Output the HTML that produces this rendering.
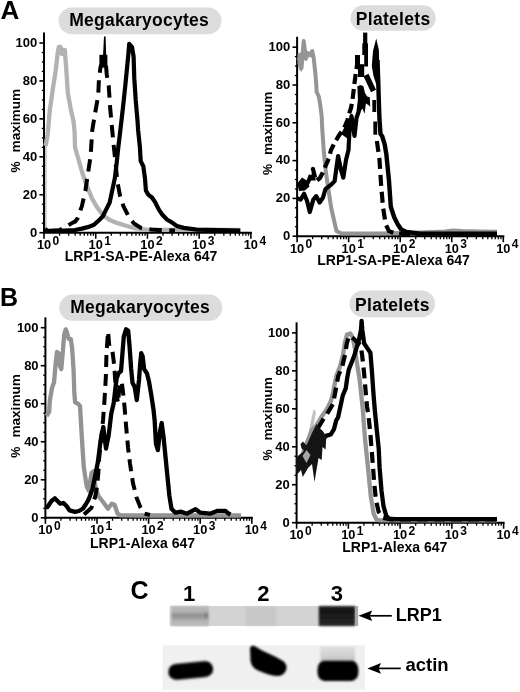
<!DOCTYPE html>
<html><head><meta charset="utf-8"><style>
html,body{margin:0;padding:0;background:#fff;width:520px;height:692px;overflow:hidden}
svg{display:block;filter:blur(0.35px)}
</style></head><body>
<svg width="520" height="692" viewBox="0 0 520 692">
<rect width="520" height="692" fill="#fff"/>
<text x="0.4" y="18.9" font-family="Liberation Sans, sans-serif" font-weight="bold" font-size="26">A</text>
<text x="0" y="305.8" font-family="Liberation Sans, sans-serif" font-weight="bold" font-size="25">B</text>
<text x="130.5" y="599" font-family="Liberation Sans, sans-serif" font-weight="bold" font-size="25">C</text>
<rect x="58.5" y="7.5" width="163" height="26.7" rx="13.35" fill="#dcdcdc"/>
<text x="69.3" y="26" font-family="Liberation Sans, sans-serif" font-weight="bold" font-size="17.5" letter-spacing="0.25">Megakaryocytes</text>
<rect x="350.5" y="5.2" width="85.2" height="25.5" rx="12.75" fill="#dcdcdc"/>
<text x="355.8" y="24.7" font-family="Liberation Sans, sans-serif" font-weight="bold" font-size="17.5" letter-spacing="0.3">Platelets</text>
<rect x="59.3" y="294.6" width="163" height="26.2" rx="13.1" fill="#dcdcdc"/>
<text x="70.3" y="312.6" font-family="Liberation Sans, sans-serif" font-weight="bold" font-size="17.5" letter-spacing="0.25">Megakaryocytes</text>
<rect x="349.5" y="290.5" width="85.5" height="26.7" rx="13.35" fill="#dcdcdc"/>
<text x="355" y="310.8" font-family="Liberation Sans, sans-serif" font-weight="bold" font-size="17.5" letter-spacing="0.3">Platelets</text>
<line x1="44.0" y1="32.4" x2="44.0" y2="233.7" stroke="#000" stroke-width="2.0"/>
<line x1="43.0" y1="232.7" x2="251.9" y2="232.7" stroke="#000" stroke-width="2.0"/>
<line x1="39.4" y1="232.70" x2="44.0" y2="232.70" stroke="#000" stroke-width="1.6"/>
<text x="37.2" y="236.50" font-family="Liberation Sans, sans-serif" font-weight="bold" font-size="13" text-anchor="end">0</text>
<line x1="41.8" y1="223.21" x2="44.0" y2="223.21" stroke="#000" stroke-width="1.3"/>
<line x1="41.8" y1="213.73" x2="44.0" y2="213.73" stroke="#000" stroke-width="1.3"/>
<line x1="41.8" y1="204.25" x2="44.0" y2="204.25" stroke="#000" stroke-width="1.3"/>
<line x1="39.4" y1="194.76" x2="44.0" y2="194.76" stroke="#000" stroke-width="1.6"/>
<text x="37.2" y="198.56" font-family="Liberation Sans, sans-serif" font-weight="bold" font-size="13" text-anchor="end">20</text>
<line x1="41.8" y1="185.27" x2="44.0" y2="185.27" stroke="#000" stroke-width="1.3"/>
<line x1="41.8" y1="175.79" x2="44.0" y2="175.79" stroke="#000" stroke-width="1.3"/>
<line x1="41.8" y1="166.31" x2="44.0" y2="166.31" stroke="#000" stroke-width="1.3"/>
<line x1="39.4" y1="156.82" x2="44.0" y2="156.82" stroke="#000" stroke-width="1.6"/>
<text x="37.2" y="160.62" font-family="Liberation Sans, sans-serif" font-weight="bold" font-size="13" text-anchor="end">40</text>
<line x1="41.8" y1="147.33" x2="44.0" y2="147.33" stroke="#000" stroke-width="1.3"/>
<line x1="41.8" y1="137.85" x2="44.0" y2="137.85" stroke="#000" stroke-width="1.3"/>
<line x1="41.8" y1="128.37" x2="44.0" y2="128.37" stroke="#000" stroke-width="1.3"/>
<line x1="39.4" y1="118.88" x2="44.0" y2="118.88" stroke="#000" stroke-width="1.6"/>
<text x="37.2" y="122.68" font-family="Liberation Sans, sans-serif" font-weight="bold" font-size="13" text-anchor="end">60</text>
<line x1="41.8" y1="109.39" x2="44.0" y2="109.39" stroke="#000" stroke-width="1.3"/>
<line x1="41.8" y1="99.91" x2="44.0" y2="99.91" stroke="#000" stroke-width="1.3"/>
<line x1="41.8" y1="90.43" x2="44.0" y2="90.43" stroke="#000" stroke-width="1.3"/>
<line x1="39.4" y1="80.94" x2="44.0" y2="80.94" stroke="#000" stroke-width="1.6"/>
<text x="37.2" y="84.74" font-family="Liberation Sans, sans-serif" font-weight="bold" font-size="13" text-anchor="end">80</text>
<line x1="41.8" y1="71.45" x2="44.0" y2="71.45" stroke="#000" stroke-width="1.3"/>
<line x1="41.8" y1="61.97" x2="44.0" y2="61.97" stroke="#000" stroke-width="1.3"/>
<line x1="41.8" y1="52.49" x2="44.0" y2="52.49" stroke="#000" stroke-width="1.3"/>
<line x1="39.4" y1="43.00" x2="44.0" y2="43.00" stroke="#000" stroke-width="1.6"/>
<text x="37.2" y="46.80" font-family="Liberation Sans, sans-serif" font-weight="bold" font-size="13" text-anchor="end">100</text>
<line x1="44.00" y1="232.7" x2="44.00" y2="238.7" stroke="#000" stroke-width="1.6"/>
<text x="44.00" y="249.10" font-family="Liberation Sans, sans-serif" font-weight="bold" font-size="12.8" text-anchor="middle">10</text>
<text x="52.50" y="244.90" font-family="Liberation Sans, sans-serif" font-weight="bold" font-size="12">0</text>
<line x1="59.57" y1="232.7" x2="59.57" y2="235.7" stroke="#000" stroke-width="1.3"/>
<line x1="68.68" y1="232.7" x2="68.68" y2="235.7" stroke="#000" stroke-width="1.3"/>
<line x1="75.14" y1="232.7" x2="75.14" y2="235.7" stroke="#000" stroke-width="1.3"/>
<line x1="80.15" y1="232.7" x2="80.15" y2="235.7" stroke="#000" stroke-width="1.3"/>
<line x1="84.25" y1="232.7" x2="84.25" y2="235.7" stroke="#000" stroke-width="1.3"/>
<line x1="87.71" y1="232.7" x2="87.71" y2="235.7" stroke="#000" stroke-width="1.3"/>
<line x1="90.71" y1="232.7" x2="90.71" y2="235.7" stroke="#000" stroke-width="1.3"/>
<line x1="93.35" y1="232.7" x2="93.35" y2="235.7" stroke="#000" stroke-width="1.3"/>
<line x1="95.72" y1="232.7" x2="95.72" y2="238.7" stroke="#000" stroke-width="1.6"/>
<text x="95.72" y="249.10" font-family="Liberation Sans, sans-serif" font-weight="bold" font-size="12.8" text-anchor="middle">10</text>
<text x="104.22" y="244.90" font-family="Liberation Sans, sans-serif" font-weight="bold" font-size="12">1</text>
<line x1="111.29" y1="232.7" x2="111.29" y2="235.7" stroke="#000" stroke-width="1.3"/>
<line x1="120.40" y1="232.7" x2="120.40" y2="235.7" stroke="#000" stroke-width="1.3"/>
<line x1="126.86" y1="232.7" x2="126.86" y2="235.7" stroke="#000" stroke-width="1.3"/>
<line x1="131.87" y1="232.7" x2="131.87" y2="235.7" stroke="#000" stroke-width="1.3"/>
<line x1="135.97" y1="232.7" x2="135.97" y2="235.7" stroke="#000" stroke-width="1.3"/>
<line x1="139.43" y1="232.7" x2="139.43" y2="235.7" stroke="#000" stroke-width="1.3"/>
<line x1="142.43" y1="232.7" x2="142.43" y2="235.7" stroke="#000" stroke-width="1.3"/>
<line x1="145.07" y1="232.7" x2="145.07" y2="235.7" stroke="#000" stroke-width="1.3"/>
<line x1="147.44" y1="232.7" x2="147.44" y2="238.7" stroke="#000" stroke-width="1.6"/>
<text x="147.44" y="249.10" font-family="Liberation Sans, sans-serif" font-weight="bold" font-size="12.8" text-anchor="middle">10</text>
<text x="155.94" y="244.90" font-family="Liberation Sans, sans-serif" font-weight="bold" font-size="12">2</text>
<line x1="163.01" y1="232.7" x2="163.01" y2="235.7" stroke="#000" stroke-width="1.3"/>
<line x1="172.12" y1="232.7" x2="172.12" y2="235.7" stroke="#000" stroke-width="1.3"/>
<line x1="178.58" y1="232.7" x2="178.58" y2="235.7" stroke="#000" stroke-width="1.3"/>
<line x1="183.59" y1="232.7" x2="183.59" y2="235.7" stroke="#000" stroke-width="1.3"/>
<line x1="187.69" y1="232.7" x2="187.69" y2="235.7" stroke="#000" stroke-width="1.3"/>
<line x1="191.15" y1="232.7" x2="191.15" y2="235.7" stroke="#000" stroke-width="1.3"/>
<line x1="194.15" y1="232.7" x2="194.15" y2="235.7" stroke="#000" stroke-width="1.3"/>
<line x1="196.79" y1="232.7" x2="196.79" y2="235.7" stroke="#000" stroke-width="1.3"/>
<line x1="199.16" y1="232.7" x2="199.16" y2="238.7" stroke="#000" stroke-width="1.6"/>
<text x="199.16" y="249.10" font-family="Liberation Sans, sans-serif" font-weight="bold" font-size="12.8" text-anchor="middle">10</text>
<text x="207.66" y="244.90" font-family="Liberation Sans, sans-serif" font-weight="bold" font-size="12">3</text>
<line x1="214.73" y1="232.7" x2="214.73" y2="235.7" stroke="#000" stroke-width="1.3"/>
<line x1="223.84" y1="232.7" x2="223.84" y2="235.7" stroke="#000" stroke-width="1.3"/>
<line x1="230.30" y1="232.7" x2="230.30" y2="235.7" stroke="#000" stroke-width="1.3"/>
<line x1="235.31" y1="232.7" x2="235.31" y2="235.7" stroke="#000" stroke-width="1.3"/>
<line x1="239.41" y1="232.7" x2="239.41" y2="235.7" stroke="#000" stroke-width="1.3"/>
<line x1="242.87" y1="232.7" x2="242.87" y2="235.7" stroke="#000" stroke-width="1.3"/>
<line x1="245.87" y1="232.7" x2="245.87" y2="235.7" stroke="#000" stroke-width="1.3"/>
<line x1="248.51" y1="232.7" x2="248.51" y2="235.7" stroke="#000" stroke-width="1.3"/>
<line x1="250.88" y1="232.7" x2="250.88" y2="238.7" stroke="#000" stroke-width="1.6"/>
<text x="250.88" y="249.10" font-family="Liberation Sans, sans-serif" font-weight="bold" font-size="12.8" text-anchor="middle">10</text>
<text x="259.38" y="244.90" font-family="Liberation Sans, sans-serif" font-weight="bold" font-size="12">4</text>
<line x1="297.1" y1="36.8" x2="297.1" y2="237.2" stroke="#000" stroke-width="2.0"/>
<line x1="296.1" y1="236.2" x2="504.3" y2="236.2" stroke="#000" stroke-width="2.0"/>
<line x1="292.5" y1="236.20" x2="297.1" y2="236.20" stroke="#000" stroke-width="1.6"/>
<text x="290.3" y="240.00" font-family="Liberation Sans, sans-serif" font-weight="bold" font-size="13" text-anchor="end">0</text>
<line x1="294.90000000000003" y1="226.75" x2="297.1" y2="226.75" stroke="#000" stroke-width="1.3"/>
<line x1="294.90000000000003" y1="217.30" x2="297.1" y2="217.30" stroke="#000" stroke-width="1.3"/>
<line x1="294.90000000000003" y1="207.85" x2="297.1" y2="207.85" stroke="#000" stroke-width="1.3"/>
<line x1="292.5" y1="198.40" x2="297.1" y2="198.40" stroke="#000" stroke-width="1.6"/>
<text x="290.3" y="202.20" font-family="Liberation Sans, sans-serif" font-weight="bold" font-size="13" text-anchor="end">20</text>
<line x1="294.90000000000003" y1="188.95" x2="297.1" y2="188.95" stroke="#000" stroke-width="1.3"/>
<line x1="294.90000000000003" y1="179.50" x2="297.1" y2="179.50" stroke="#000" stroke-width="1.3"/>
<line x1="294.90000000000003" y1="170.05" x2="297.1" y2="170.05" stroke="#000" stroke-width="1.3"/>
<line x1="292.5" y1="160.60" x2="297.1" y2="160.60" stroke="#000" stroke-width="1.6"/>
<text x="290.3" y="164.40" font-family="Liberation Sans, sans-serif" font-weight="bold" font-size="13" text-anchor="end">40</text>
<line x1="294.90000000000003" y1="151.15" x2="297.1" y2="151.15" stroke="#000" stroke-width="1.3"/>
<line x1="294.90000000000003" y1="141.70" x2="297.1" y2="141.70" stroke="#000" stroke-width="1.3"/>
<line x1="294.90000000000003" y1="132.25" x2="297.1" y2="132.25" stroke="#000" stroke-width="1.3"/>
<line x1="292.5" y1="122.80" x2="297.1" y2="122.80" stroke="#000" stroke-width="1.6"/>
<text x="290.3" y="126.60" font-family="Liberation Sans, sans-serif" font-weight="bold" font-size="13" text-anchor="end">60</text>
<line x1="294.90000000000003" y1="113.35" x2="297.1" y2="113.35" stroke="#000" stroke-width="1.3"/>
<line x1="294.90000000000003" y1="103.90" x2="297.1" y2="103.90" stroke="#000" stroke-width="1.3"/>
<line x1="294.90000000000003" y1="94.45" x2="297.1" y2="94.45" stroke="#000" stroke-width="1.3"/>
<line x1="292.5" y1="85.00" x2="297.1" y2="85.00" stroke="#000" stroke-width="1.6"/>
<text x="290.3" y="88.80" font-family="Liberation Sans, sans-serif" font-weight="bold" font-size="13" text-anchor="end">80</text>
<line x1="294.90000000000003" y1="75.55" x2="297.1" y2="75.55" stroke="#000" stroke-width="1.3"/>
<line x1="294.90000000000003" y1="66.10" x2="297.1" y2="66.10" stroke="#000" stroke-width="1.3"/>
<line x1="294.90000000000003" y1="56.65" x2="297.1" y2="56.65" stroke="#000" stroke-width="1.3"/>
<line x1="292.5" y1="47.20" x2="297.1" y2="47.20" stroke="#000" stroke-width="1.6"/>
<text x="290.3" y="51.00" font-family="Liberation Sans, sans-serif" font-weight="bold" font-size="13" text-anchor="end">100</text>
<line x1="297.10" y1="236.2" x2="297.10" y2="242.2" stroke="#000" stroke-width="1.6"/>
<text x="297.10" y="252.60" font-family="Liberation Sans, sans-serif" font-weight="bold" font-size="12.8" text-anchor="middle">10</text>
<text x="305.60" y="248.40" font-family="Liberation Sans, sans-serif" font-weight="bold" font-size="12">0</text>
<line x1="312.62" y1="236.2" x2="312.62" y2="239.2" stroke="#000" stroke-width="1.3"/>
<line x1="321.70" y1="236.2" x2="321.70" y2="239.2" stroke="#000" stroke-width="1.3"/>
<line x1="328.14" y1="236.2" x2="328.14" y2="239.2" stroke="#000" stroke-width="1.3"/>
<line x1="333.13" y1="236.2" x2="333.13" y2="239.2" stroke="#000" stroke-width="1.3"/>
<line x1="337.21" y1="236.2" x2="337.21" y2="239.2" stroke="#000" stroke-width="1.3"/>
<line x1="340.66" y1="236.2" x2="340.66" y2="239.2" stroke="#000" stroke-width="1.3"/>
<line x1="343.65" y1="236.2" x2="343.65" y2="239.2" stroke="#000" stroke-width="1.3"/>
<line x1="346.29" y1="236.2" x2="346.29" y2="239.2" stroke="#000" stroke-width="1.3"/>
<line x1="348.65" y1="236.2" x2="348.65" y2="242.2" stroke="#000" stroke-width="1.6"/>
<text x="348.65" y="252.60" font-family="Liberation Sans, sans-serif" font-weight="bold" font-size="12.8" text-anchor="middle">10</text>
<text x="357.15" y="248.40" font-family="Liberation Sans, sans-serif" font-weight="bold" font-size="12">1</text>
<line x1="364.17" y1="236.2" x2="364.17" y2="239.2" stroke="#000" stroke-width="1.3"/>
<line x1="373.25" y1="236.2" x2="373.25" y2="239.2" stroke="#000" stroke-width="1.3"/>
<line x1="379.69" y1="236.2" x2="379.69" y2="239.2" stroke="#000" stroke-width="1.3"/>
<line x1="384.68" y1="236.2" x2="384.68" y2="239.2" stroke="#000" stroke-width="1.3"/>
<line x1="388.76" y1="236.2" x2="388.76" y2="239.2" stroke="#000" stroke-width="1.3"/>
<line x1="392.21" y1="236.2" x2="392.21" y2="239.2" stroke="#000" stroke-width="1.3"/>
<line x1="395.20" y1="236.2" x2="395.20" y2="239.2" stroke="#000" stroke-width="1.3"/>
<line x1="397.84" y1="236.2" x2="397.84" y2="239.2" stroke="#000" stroke-width="1.3"/>
<line x1="400.20" y1="236.2" x2="400.20" y2="242.2" stroke="#000" stroke-width="1.6"/>
<text x="400.20" y="252.60" font-family="Liberation Sans, sans-serif" font-weight="bold" font-size="12.8" text-anchor="middle">10</text>
<text x="408.70" y="248.40" font-family="Liberation Sans, sans-serif" font-weight="bold" font-size="12">2</text>
<line x1="415.72" y1="236.2" x2="415.72" y2="239.2" stroke="#000" stroke-width="1.3"/>
<line x1="424.80" y1="236.2" x2="424.80" y2="239.2" stroke="#000" stroke-width="1.3"/>
<line x1="431.24" y1="236.2" x2="431.24" y2="239.2" stroke="#000" stroke-width="1.3"/>
<line x1="436.23" y1="236.2" x2="436.23" y2="239.2" stroke="#000" stroke-width="1.3"/>
<line x1="440.31" y1="236.2" x2="440.31" y2="239.2" stroke="#000" stroke-width="1.3"/>
<line x1="443.76" y1="236.2" x2="443.76" y2="239.2" stroke="#000" stroke-width="1.3"/>
<line x1="446.75" y1="236.2" x2="446.75" y2="239.2" stroke="#000" stroke-width="1.3"/>
<line x1="449.39" y1="236.2" x2="449.39" y2="239.2" stroke="#000" stroke-width="1.3"/>
<line x1="451.75" y1="236.2" x2="451.75" y2="242.2" stroke="#000" stroke-width="1.6"/>
<text x="451.75" y="252.60" font-family="Liberation Sans, sans-serif" font-weight="bold" font-size="12.8" text-anchor="middle">10</text>
<text x="460.25" y="248.40" font-family="Liberation Sans, sans-serif" font-weight="bold" font-size="12">3</text>
<line x1="467.27" y1="236.2" x2="467.27" y2="239.2" stroke="#000" stroke-width="1.3"/>
<line x1="476.35" y1="236.2" x2="476.35" y2="239.2" stroke="#000" stroke-width="1.3"/>
<line x1="482.79" y1="236.2" x2="482.79" y2="239.2" stroke="#000" stroke-width="1.3"/>
<line x1="487.78" y1="236.2" x2="487.78" y2="239.2" stroke="#000" stroke-width="1.3"/>
<line x1="491.86" y1="236.2" x2="491.86" y2="239.2" stroke="#000" stroke-width="1.3"/>
<line x1="495.31" y1="236.2" x2="495.31" y2="239.2" stroke="#000" stroke-width="1.3"/>
<line x1="498.30" y1="236.2" x2="498.30" y2="239.2" stroke="#000" stroke-width="1.3"/>
<line x1="500.94" y1="236.2" x2="500.94" y2="239.2" stroke="#000" stroke-width="1.3"/>
<line x1="503.30" y1="236.2" x2="503.30" y2="242.2" stroke="#000" stroke-width="1.6"/>
<text x="503.30" y="252.60" font-family="Liberation Sans, sans-serif" font-weight="bold" font-size="12.8" text-anchor="middle">10</text>
<text x="511.80" y="248.40" font-family="Liberation Sans, sans-serif" font-weight="bold" font-size="12">4</text>
<line x1="45.4" y1="317.4" x2="45.4" y2="518.8" stroke="#000" stroke-width="2.0"/>
<line x1="44.4" y1="517.8" x2="252.8" y2="517.8" stroke="#000" stroke-width="2.0"/>
<line x1="40.8" y1="517.80" x2="45.4" y2="517.80" stroke="#000" stroke-width="1.6"/>
<text x="38.6" y="521.60" font-family="Liberation Sans, sans-serif" font-weight="bold" font-size="13" text-anchor="end">0</text>
<line x1="43.199999999999996" y1="508.29" x2="45.4" y2="508.29" stroke="#000" stroke-width="1.3"/>
<line x1="43.199999999999996" y1="498.79" x2="45.4" y2="498.79" stroke="#000" stroke-width="1.3"/>
<line x1="43.199999999999996" y1="489.28" x2="45.4" y2="489.28" stroke="#000" stroke-width="1.3"/>
<line x1="40.8" y1="479.78" x2="45.4" y2="479.78" stroke="#000" stroke-width="1.6"/>
<text x="38.6" y="483.58" font-family="Liberation Sans, sans-serif" font-weight="bold" font-size="13" text-anchor="end">20</text>
<line x1="43.199999999999996" y1="470.27" x2="45.4" y2="470.27" stroke="#000" stroke-width="1.3"/>
<line x1="43.199999999999996" y1="460.77" x2="45.4" y2="460.77" stroke="#000" stroke-width="1.3"/>
<line x1="43.199999999999996" y1="451.26" x2="45.4" y2="451.26" stroke="#000" stroke-width="1.3"/>
<line x1="40.8" y1="441.76" x2="45.4" y2="441.76" stroke="#000" stroke-width="1.6"/>
<text x="38.6" y="445.56" font-family="Liberation Sans, sans-serif" font-weight="bold" font-size="13" text-anchor="end">40</text>
<line x1="43.199999999999996" y1="432.25" x2="45.4" y2="432.25" stroke="#000" stroke-width="1.3"/>
<line x1="43.199999999999996" y1="422.75" x2="45.4" y2="422.75" stroke="#000" stroke-width="1.3"/>
<line x1="43.199999999999996" y1="413.24" x2="45.4" y2="413.24" stroke="#000" stroke-width="1.3"/>
<line x1="40.8" y1="403.74" x2="45.4" y2="403.74" stroke="#000" stroke-width="1.6"/>
<text x="38.6" y="407.54" font-family="Liberation Sans, sans-serif" font-weight="bold" font-size="13" text-anchor="end">60</text>
<line x1="43.199999999999996" y1="394.23" x2="45.4" y2="394.23" stroke="#000" stroke-width="1.3"/>
<line x1="43.199999999999996" y1="384.73" x2="45.4" y2="384.73" stroke="#000" stroke-width="1.3"/>
<line x1="43.199999999999996" y1="375.22" x2="45.4" y2="375.22" stroke="#000" stroke-width="1.3"/>
<line x1="40.8" y1="365.72" x2="45.4" y2="365.72" stroke="#000" stroke-width="1.6"/>
<text x="38.6" y="369.52" font-family="Liberation Sans, sans-serif" font-weight="bold" font-size="13" text-anchor="end">80</text>
<line x1="43.199999999999996" y1="356.21" x2="45.4" y2="356.21" stroke="#000" stroke-width="1.3"/>
<line x1="43.199999999999996" y1="346.71" x2="45.4" y2="346.71" stroke="#000" stroke-width="1.3"/>
<line x1="43.199999999999996" y1="337.20" x2="45.4" y2="337.20" stroke="#000" stroke-width="1.3"/>
<line x1="40.8" y1="327.70" x2="45.4" y2="327.70" stroke="#000" stroke-width="1.6"/>
<text x="38.6" y="331.50" font-family="Liberation Sans, sans-serif" font-weight="bold" font-size="13" text-anchor="end">100</text>
<line x1="45.40" y1="517.8" x2="45.40" y2="523.8" stroke="#000" stroke-width="1.6"/>
<text x="45.40" y="534.20" font-family="Liberation Sans, sans-serif" font-weight="bold" font-size="12.8" text-anchor="middle">10</text>
<text x="53.90" y="530.00" font-family="Liberation Sans, sans-serif" font-weight="bold" font-size="12">0</text>
<line x1="60.93" y1="517.8" x2="60.93" y2="520.8" stroke="#000" stroke-width="1.3"/>
<line x1="70.02" y1="517.8" x2="70.02" y2="520.8" stroke="#000" stroke-width="1.3"/>
<line x1="76.47" y1="517.8" x2="76.47" y2="520.8" stroke="#000" stroke-width="1.3"/>
<line x1="81.47" y1="517.8" x2="81.47" y2="520.8" stroke="#000" stroke-width="1.3"/>
<line x1="85.55" y1="517.8" x2="85.55" y2="520.8" stroke="#000" stroke-width="1.3"/>
<line x1="89.01" y1="517.8" x2="89.01" y2="520.8" stroke="#000" stroke-width="1.3"/>
<line x1="92.00" y1="517.8" x2="92.00" y2="520.8" stroke="#000" stroke-width="1.3"/>
<line x1="94.64" y1="517.8" x2="94.64" y2="520.8" stroke="#000" stroke-width="1.3"/>
<line x1="97.00" y1="517.8" x2="97.00" y2="523.8" stroke="#000" stroke-width="1.6"/>
<text x="97.00" y="534.20" font-family="Liberation Sans, sans-serif" font-weight="bold" font-size="12.8" text-anchor="middle">10</text>
<text x="105.50" y="530.00" font-family="Liberation Sans, sans-serif" font-weight="bold" font-size="12">1</text>
<line x1="112.53" y1="517.8" x2="112.53" y2="520.8" stroke="#000" stroke-width="1.3"/>
<line x1="121.62" y1="517.8" x2="121.62" y2="520.8" stroke="#000" stroke-width="1.3"/>
<line x1="128.07" y1="517.8" x2="128.07" y2="520.8" stroke="#000" stroke-width="1.3"/>
<line x1="133.07" y1="517.8" x2="133.07" y2="520.8" stroke="#000" stroke-width="1.3"/>
<line x1="137.15" y1="517.8" x2="137.15" y2="520.8" stroke="#000" stroke-width="1.3"/>
<line x1="140.61" y1="517.8" x2="140.61" y2="520.8" stroke="#000" stroke-width="1.3"/>
<line x1="143.60" y1="517.8" x2="143.60" y2="520.8" stroke="#000" stroke-width="1.3"/>
<line x1="146.24" y1="517.8" x2="146.24" y2="520.8" stroke="#000" stroke-width="1.3"/>
<line x1="148.60" y1="517.8" x2="148.60" y2="523.8" stroke="#000" stroke-width="1.6"/>
<text x="148.60" y="534.20" font-family="Liberation Sans, sans-serif" font-weight="bold" font-size="12.8" text-anchor="middle">10</text>
<text x="157.10" y="530.00" font-family="Liberation Sans, sans-serif" font-weight="bold" font-size="12">2</text>
<line x1="164.13" y1="517.8" x2="164.13" y2="520.8" stroke="#000" stroke-width="1.3"/>
<line x1="173.22" y1="517.8" x2="173.22" y2="520.8" stroke="#000" stroke-width="1.3"/>
<line x1="179.67" y1="517.8" x2="179.67" y2="520.8" stroke="#000" stroke-width="1.3"/>
<line x1="184.67" y1="517.8" x2="184.67" y2="520.8" stroke="#000" stroke-width="1.3"/>
<line x1="188.75" y1="517.8" x2="188.75" y2="520.8" stroke="#000" stroke-width="1.3"/>
<line x1="192.21" y1="517.8" x2="192.21" y2="520.8" stroke="#000" stroke-width="1.3"/>
<line x1="195.20" y1="517.8" x2="195.20" y2="520.8" stroke="#000" stroke-width="1.3"/>
<line x1="197.84" y1="517.8" x2="197.84" y2="520.8" stroke="#000" stroke-width="1.3"/>
<line x1="200.20" y1="517.8" x2="200.20" y2="523.8" stroke="#000" stroke-width="1.6"/>
<text x="200.20" y="534.20" font-family="Liberation Sans, sans-serif" font-weight="bold" font-size="12.8" text-anchor="middle">10</text>
<text x="208.70" y="530.00" font-family="Liberation Sans, sans-serif" font-weight="bold" font-size="12">3</text>
<line x1="215.73" y1="517.8" x2="215.73" y2="520.8" stroke="#000" stroke-width="1.3"/>
<line x1="224.82" y1="517.8" x2="224.82" y2="520.8" stroke="#000" stroke-width="1.3"/>
<line x1="231.27" y1="517.8" x2="231.27" y2="520.8" stroke="#000" stroke-width="1.3"/>
<line x1="236.27" y1="517.8" x2="236.27" y2="520.8" stroke="#000" stroke-width="1.3"/>
<line x1="240.35" y1="517.8" x2="240.35" y2="520.8" stroke="#000" stroke-width="1.3"/>
<line x1="243.81" y1="517.8" x2="243.81" y2="520.8" stroke="#000" stroke-width="1.3"/>
<line x1="246.80" y1="517.8" x2="246.80" y2="520.8" stroke="#000" stroke-width="1.3"/>
<line x1="249.44" y1="517.8" x2="249.44" y2="520.8" stroke="#000" stroke-width="1.3"/>
<line x1="251.80" y1="517.8" x2="251.80" y2="523.8" stroke="#000" stroke-width="1.6"/>
<text x="251.80" y="534.20" font-family="Liberation Sans, sans-serif" font-weight="bold" font-size="12.8" text-anchor="middle">10</text>
<text x="260.30" y="530.00" font-family="Liberation Sans, sans-serif" font-weight="bold" font-size="12">4</text>
<line x1="296.6" y1="322.3" x2="296.6" y2="523.7" stroke="#000" stroke-width="2.0"/>
<line x1="295.6" y1="522.7" x2="504.6" y2="522.7" stroke="#000" stroke-width="2.0"/>
<line x1="292.0" y1="522.70" x2="296.6" y2="522.70" stroke="#000" stroke-width="1.6"/>
<text x="289.8" y="526.50" font-family="Liberation Sans, sans-serif" font-weight="bold" font-size="13" text-anchor="end">0</text>
<line x1="294.40000000000003" y1="513.21" x2="296.6" y2="513.21" stroke="#000" stroke-width="1.3"/>
<line x1="294.40000000000003" y1="503.72" x2="296.6" y2="503.72" stroke="#000" stroke-width="1.3"/>
<line x1="294.40000000000003" y1="494.23" x2="296.6" y2="494.23" stroke="#000" stroke-width="1.3"/>
<line x1="292.0" y1="484.74" x2="296.6" y2="484.74" stroke="#000" stroke-width="1.6"/>
<text x="289.8" y="488.54" font-family="Liberation Sans, sans-serif" font-weight="bold" font-size="13" text-anchor="end">20</text>
<line x1="294.40000000000003" y1="475.25" x2="296.6" y2="475.25" stroke="#000" stroke-width="1.3"/>
<line x1="294.40000000000003" y1="465.76" x2="296.6" y2="465.76" stroke="#000" stroke-width="1.3"/>
<line x1="294.40000000000003" y1="456.27" x2="296.6" y2="456.27" stroke="#000" stroke-width="1.3"/>
<line x1="292.0" y1="446.78" x2="296.6" y2="446.78" stroke="#000" stroke-width="1.6"/>
<text x="289.8" y="450.58" font-family="Liberation Sans, sans-serif" font-weight="bold" font-size="13" text-anchor="end">40</text>
<line x1="294.40000000000003" y1="437.29" x2="296.6" y2="437.29" stroke="#000" stroke-width="1.3"/>
<line x1="294.40000000000003" y1="427.80" x2="296.6" y2="427.80" stroke="#000" stroke-width="1.3"/>
<line x1="294.40000000000003" y1="418.31" x2="296.6" y2="418.31" stroke="#000" stroke-width="1.3"/>
<line x1="292.0" y1="408.82" x2="296.6" y2="408.82" stroke="#000" stroke-width="1.6"/>
<text x="289.8" y="412.62" font-family="Liberation Sans, sans-serif" font-weight="bold" font-size="13" text-anchor="end">60</text>
<line x1="294.40000000000003" y1="399.33" x2="296.6" y2="399.33" stroke="#000" stroke-width="1.3"/>
<line x1="294.40000000000003" y1="389.84" x2="296.6" y2="389.84" stroke="#000" stroke-width="1.3"/>
<line x1="294.40000000000003" y1="380.35" x2="296.6" y2="380.35" stroke="#000" stroke-width="1.3"/>
<line x1="292.0" y1="370.86" x2="296.6" y2="370.86" stroke="#000" stroke-width="1.6"/>
<text x="289.8" y="374.66" font-family="Liberation Sans, sans-serif" font-weight="bold" font-size="13" text-anchor="end">80</text>
<line x1="294.40000000000003" y1="361.37" x2="296.6" y2="361.37" stroke="#000" stroke-width="1.3"/>
<line x1="294.40000000000003" y1="351.88" x2="296.6" y2="351.88" stroke="#000" stroke-width="1.3"/>
<line x1="294.40000000000003" y1="342.39" x2="296.6" y2="342.39" stroke="#000" stroke-width="1.3"/>
<line x1="292.0" y1="332.90" x2="296.6" y2="332.90" stroke="#000" stroke-width="1.6"/>
<text x="289.8" y="336.70" font-family="Liberation Sans, sans-serif" font-weight="bold" font-size="13" text-anchor="end">100</text>
<line x1="296.60" y1="522.7" x2="296.60" y2="528.7" stroke="#000" stroke-width="1.6"/>
<text x="296.60" y="539.10" font-family="Liberation Sans, sans-serif" font-weight="bold" font-size="12.8" text-anchor="middle">10</text>
<text x="305.10" y="534.90" font-family="Liberation Sans, sans-serif" font-weight="bold" font-size="12">0</text>
<line x1="312.18" y1="522.7" x2="312.18" y2="525.7" stroke="#000" stroke-width="1.3"/>
<line x1="321.29" y1="522.7" x2="321.29" y2="525.7" stroke="#000" stroke-width="1.3"/>
<line x1="327.76" y1="522.7" x2="327.76" y2="525.7" stroke="#000" stroke-width="1.3"/>
<line x1="332.77" y1="522.7" x2="332.77" y2="525.7" stroke="#000" stroke-width="1.3"/>
<line x1="336.87" y1="522.7" x2="336.87" y2="525.7" stroke="#000" stroke-width="1.3"/>
<line x1="340.33" y1="522.7" x2="340.33" y2="525.7" stroke="#000" stroke-width="1.3"/>
<line x1="343.33" y1="522.7" x2="343.33" y2="525.7" stroke="#000" stroke-width="1.3"/>
<line x1="345.98" y1="522.7" x2="345.98" y2="525.7" stroke="#000" stroke-width="1.3"/>
<line x1="348.35" y1="522.7" x2="348.35" y2="528.7" stroke="#000" stroke-width="1.6"/>
<text x="348.35" y="539.10" font-family="Liberation Sans, sans-serif" font-weight="bold" font-size="12.8" text-anchor="middle">10</text>
<text x="356.85" y="534.90" font-family="Liberation Sans, sans-serif" font-weight="bold" font-size="12">1</text>
<line x1="363.93" y1="522.7" x2="363.93" y2="525.7" stroke="#000" stroke-width="1.3"/>
<line x1="373.04" y1="522.7" x2="373.04" y2="525.7" stroke="#000" stroke-width="1.3"/>
<line x1="379.51" y1="522.7" x2="379.51" y2="525.7" stroke="#000" stroke-width="1.3"/>
<line x1="384.52" y1="522.7" x2="384.52" y2="525.7" stroke="#000" stroke-width="1.3"/>
<line x1="388.62" y1="522.7" x2="388.62" y2="525.7" stroke="#000" stroke-width="1.3"/>
<line x1="392.08" y1="522.7" x2="392.08" y2="525.7" stroke="#000" stroke-width="1.3"/>
<line x1="395.08" y1="522.7" x2="395.08" y2="525.7" stroke="#000" stroke-width="1.3"/>
<line x1="397.73" y1="522.7" x2="397.73" y2="525.7" stroke="#000" stroke-width="1.3"/>
<line x1="400.10" y1="522.7" x2="400.10" y2="528.7" stroke="#000" stroke-width="1.6"/>
<text x="400.10" y="539.10" font-family="Liberation Sans, sans-serif" font-weight="bold" font-size="12.8" text-anchor="middle">10</text>
<text x="408.60" y="534.90" font-family="Liberation Sans, sans-serif" font-weight="bold" font-size="12">2</text>
<line x1="415.68" y1="522.7" x2="415.68" y2="525.7" stroke="#000" stroke-width="1.3"/>
<line x1="424.79" y1="522.7" x2="424.79" y2="525.7" stroke="#000" stroke-width="1.3"/>
<line x1="431.26" y1="522.7" x2="431.26" y2="525.7" stroke="#000" stroke-width="1.3"/>
<line x1="436.27" y1="522.7" x2="436.27" y2="525.7" stroke="#000" stroke-width="1.3"/>
<line x1="440.37" y1="522.7" x2="440.37" y2="525.7" stroke="#000" stroke-width="1.3"/>
<line x1="443.83" y1="522.7" x2="443.83" y2="525.7" stroke="#000" stroke-width="1.3"/>
<line x1="446.83" y1="522.7" x2="446.83" y2="525.7" stroke="#000" stroke-width="1.3"/>
<line x1="449.48" y1="522.7" x2="449.48" y2="525.7" stroke="#000" stroke-width="1.3"/>
<line x1="451.85" y1="522.7" x2="451.85" y2="528.7" stroke="#000" stroke-width="1.6"/>
<text x="451.85" y="539.10" font-family="Liberation Sans, sans-serif" font-weight="bold" font-size="12.8" text-anchor="middle">10</text>
<text x="460.35" y="534.90" font-family="Liberation Sans, sans-serif" font-weight="bold" font-size="12">3</text>
<line x1="467.43" y1="522.7" x2="467.43" y2="525.7" stroke="#000" stroke-width="1.3"/>
<line x1="476.54" y1="522.7" x2="476.54" y2="525.7" stroke="#000" stroke-width="1.3"/>
<line x1="483.01" y1="522.7" x2="483.01" y2="525.7" stroke="#000" stroke-width="1.3"/>
<line x1="488.02" y1="522.7" x2="488.02" y2="525.7" stroke="#000" stroke-width="1.3"/>
<line x1="492.12" y1="522.7" x2="492.12" y2="525.7" stroke="#000" stroke-width="1.3"/>
<line x1="495.58" y1="522.7" x2="495.58" y2="525.7" stroke="#000" stroke-width="1.3"/>
<line x1="498.58" y1="522.7" x2="498.58" y2="525.7" stroke="#000" stroke-width="1.3"/>
<line x1="501.23" y1="522.7" x2="501.23" y2="525.7" stroke="#000" stroke-width="1.3"/>
<line x1="503.60" y1="522.7" x2="503.60" y2="528.7" stroke="#000" stroke-width="1.6"/>
<text x="503.60" y="539.10" font-family="Liberation Sans, sans-serif" font-weight="bold" font-size="12.8" text-anchor="middle">10</text>
<text x="512.10" y="534.90" font-family="Liberation Sans, sans-serif" font-weight="bold" font-size="12">4</text>
<text transform="translate(20.2,152.40) rotate(-90)" font-family="Liberation Sans, sans-serif" font-weight="bold" font-size="13.6">maximum</text>
<text transform="translate(20.2,172.50) rotate(-90)" font-family="Liberation Sans, sans-serif" font-weight="bold" font-size="12.6">%</text>
<text transform="translate(272.2,155.00) rotate(-90)" font-family="Liberation Sans, sans-serif" font-weight="bold" font-size="13.6">maximum</text>
<text transform="translate(272.2,175.10) rotate(-90)" font-family="Liberation Sans, sans-serif" font-weight="bold" font-size="12.6">%</text>
<text transform="translate(19.8,437.60) rotate(-90)" font-family="Liberation Sans, sans-serif" font-weight="bold" font-size="13.6">maximum</text>
<text transform="translate(19.8,457.70) rotate(-90)" font-family="Liberation Sans, sans-serif" font-weight="bold" font-size="12.6">%</text>
<text transform="translate(272.1,440.50) rotate(-90)" font-family="Liberation Sans, sans-serif" font-weight="bold" font-size="13.6">maximum</text>
<text transform="translate(272.1,460.60) rotate(-90)" font-family="Liberation Sans, sans-serif" font-weight="bold" font-size="12.6">%</text>
<text x="64.8" y="260.9" font-family="Liberation Sans, sans-serif" font-weight="bold" font-size="14">LRP1-SA-PE-Alexa 647</text>
<text x="317.3" y="264.7" font-family="Liberation Sans, sans-serif" font-weight="bold" font-size="14">LRP1-SA-PE-Alexa 647</text>
<text x="90" y="548.1" font-family="Liberation Sans, sans-serif" font-weight="bold" font-size="14">LRP1-Alexa 647</text>
<text x="342.3" y="551.7" font-family="Liberation Sans, sans-serif" font-weight="bold" font-size="14">LRP1-Alexa 647</text>
<line x1="45.9" y1="146" x2="45.9" y2="231" stroke="#c4c4c4" stroke-width="1.6"/>
<polyline points="45.5,146.0 47.6,135.0 49.8,110.1 52.7,89.9 55.6,71.1 57.7,53.0 58.8,47.0 60.6,47.0 61.8,54.0 63.6,50.0 64.8,50.0 66.4,71.1 67.8,92.8 70.7,108.7 73.6,121.7 74.6,132.0 75.0,147.3 78.5,159.4 81.9,171.5 85.4,181.9 88.8,190.6 92.3,199.2 97.5,207.9 102.7,214.8 109.6,220.0 118.3,223.4 126.9,226.0 135.6,228.3 147.7,229.8 240.0,229.8" fill="none" stroke="#b2b2b2" stroke-width="4.3" stroke-linejoin="round"/>
<polyline points="50.0,231.0 59.2,230.2 65.2,227.1 72.8,222.6 75.0,221.7 77.6,218.2 81.9,206.1 85.4,190.6 88.0,173.3 90.6,156.0 92.3,130.0 94.6,115.9 98.2,95.7 98.9,80.0 100.5,67.0 103.5,60.0 105.8,63.0 106.8,75.0 108.7,85.6 110.1,107.3 112.2,130.0 113.9,147.3 115.7,164.6 117.4,181.9 120.0,195.7 123.4,206.1 128.6,216.5 133.8,223.4 140.7,227.7 151.1,229.5 158.0,230.0 175.0,230.5" fill="none" stroke="#000" stroke-width="4" stroke-linejoin="round" stroke-dasharray="12.4 7.5"/>
<path d="M103,56 L104,36.5 L105.6,36.5 L106.2,56 Z" fill="#000"/>
<rect x="99.4" y="54.8" width="8" height="12.8" fill="#000"/>
<polyline points="45.0,229.0 47.0,230.5 59.2,230.9 75.0,230.0 81.9,228.6 88.8,226.9 94.0,224.8 99.2,220.0 102.7,216.5 106.1,209.6 109.6,202.7 112.2,190.6 114.8,178.4 116.5,164.6 118.3,147.3 119.8,135.0 123.0,107.3 125.3,85.6 127.0,68.2 128.4,53.8 129.2,43.8 132.0,47.2 133.6,56.7 134.3,78.4 135.7,100.0 137.6,121.7 138.1,130.0 139.9,147.3 140.7,161.1 143.3,166.3 145.0,178.4 145.9,190.6 148.5,194.9 152.0,197.5 155.4,202.7 158.9,209.6 162.4,214.8 166.9,219.5 172.2,222.6 176.8,226.0 183.8,227.9 196.6,229.7 240.4,230.6" fill="none" stroke="#000" stroke-width="4.2" stroke-linejoin="round"/>
<polyline points="297.8,57.5 300.0,59.0 301.5,68.0 303.7,41.0 305.1,51.7 305.8,58.9 308.0,53.1 310.2,55.3 312.3,51.0 313.8,58.9 315.2,71.9 316.0,80.6 316.7,92.1 318.8,96.5 320.3,105.1 321.7,116.7 322.2,128.0 323.7,150.0 324.8,161.5 326.0,173.1 327.7,184.6 329.4,196.1 331.2,207.7 333.5,218.0 336.5,231.0 341.5,233.6 380.0,233.6 420.0,232.5 445.0,231.5 452.5,230.5 462.0,231.0 480.0,231.5 497.0,231.8" fill="none" stroke="#959595" stroke-width="4.0" stroke-linejoin="round"/>
<polygon points="301.3,60 303.7,37.8 306.3,58" fill="#959595"/>
<polygon points="297.5,54 301.5,52 303,66 301.5,72 299.5,70 297.5,64" fill="#959595"/>
<polyline points="297.8,186.0 302.0,181.0 306.0,186.0 309.0,180.0 313.0,169.0 316.0,181.0 320.0,178.0 323.5,171.0 326.0,165.0 329.0,158.0 331.0,150.0 334.0,144.0 338.0,137.0 342.0,131.0 345.0,126.0 347.5,120.0 349.0,114.0 351.0,108.0 352.5,100.0 354.5,83.0 356.0,72.0 357.5,62.0" fill="none" stroke="#000" stroke-width="4.2" stroke-linejoin="round" stroke-dasharray="10 5"/>
<polygon points="297.5,184 302,177.5 307.5,181 309.5,186.5 305,190.5 299,191" fill="#000"/>
<polygon points="309.8,180.5 313.3,168 315.8,180.5" fill="#000"/>
<polyline points="376.9,141.0 379.5,159.9 381.2,186.0 383.0,206.8 385.6,224.2 389.0,231.1 396.0,233.7 420.0,234.0" fill="none" stroke="#000" stroke-width="4.2" stroke-linejoin="round" stroke-dasharray="11 6"/>
<rect x="363.1" y="32.6" width="4.2" height="12.4" fill="#000"/>
<rect x="362.3" y="43.4" width="5.7" height="11.6" fill="#000"/>
<rect x="364.2" y="53.4" width="3.8" height="13.1" fill="#000"/>
<rect x="355" y="55" width="5" height="13" fill="#000"/>
<rect x="358" y="64.2" width="6.2" height="12.8" fill="#000"/>
<polyline points="297.5,198.4 300.6,199.6 304.1,193.8 307.0,200.7 309.8,212.0 313.3,199.6 316.2,196.1 319.6,202.5 323.1,197.3 325.4,189.2 328.3,186.9 331.2,184.6 334.6,181.1 338.1,156.0 341.0,170.0 343.3,177.7 346.0,160.0 348.5,150.0 349.5,130.0 351.5,116.0 354.5,136.0 356.5,118.0 358.5,112.0 360.0,100.0 359.5,86.0" fill="none" stroke="#000" stroke-width="4.2" stroke-linejoin="round"/>
<polygon points="376.2,38.5 378.9,50 379.5,85 376.5,85 373.5,76 371.8,66 373,51" fill="#000"/>
<polygon points="359.4,84.7 363.3,86 365,93 367.2,96.4 369.8,97.3 370.2,106.8 368.5,105.1 365.9,103.4 364.6,113.8 362.4,108.6 360.2,112 358.1,108.6 358.5,94.7" fill="#000"/>
<line x1="366" y1="75" x2="373.5" y2="91" stroke="#000" stroke-width="5.5"/>
<line x1="374.2" y1="100" x2="374.3" y2="112" stroke="#000" stroke-width="3.8"/>
<line x1="375.2" y1="121.6" x2="375.3" y2="134.7" stroke="#000" stroke-width="3.8"/>
<polygon points="341,134 346,124 349,118 351,120 349,140 344,136" fill="#000"/>
<polyline points="377.5,60.0 378.2,80.0 378.8,100.0 379.5,120.0 380.5,134.0 382.1,136.0 384.7,144.3 386.4,154.7 389.0,180.8 390.8,206.8 394.2,217.2 397.7,224.2 401.2,229.4 406.4,232.0 420.0,233.6 497.0,233.8" fill="none" stroke="#000" stroke-width="4.4" stroke-linejoin="round"/>
<polyline points="46.5,416.0 49.1,412.0 49.8,400.9 52.0,387.9 54.1,382.1 55.6,363.4 57.0,351.8 58.5,353.2 59.9,366.2 61.3,369.1 62.8,351.8 64.2,334.5 65.7,329.4 67.1,333.0 68.6,338.8 70.7,338.8 72.2,348.9 73.6,370.6 74.3,392.3 75.1,402.4 78.0,403.8 80.0,406.0 81.9,438.5 83.8,467.3 86.7,486.5 88.7,490.4 91.5,473.0 93.5,471.2 95.4,486.5 98.3,496.0 103.1,502.0 107.9,508.7 111.7,503.8 114.6,504.8 117.5,513.5 120.4,515.4 140.0,515.5 241.0,515.5" fill="none" stroke="#939393" stroke-width="4.3" stroke-linejoin="round"/>
<polyline points="84.0,514.5 91.5,507.7 95.4,496.0 97.3,484.6 98.3,473.0 99.2,457.7 101.2,438.5 103.1,419.2 104.5,400.0 105.8,377.8 106.5,353.2 108.0,331.5 109.4,346.7 112.3,350.3 113.7,361.1 114.5,369.8 115.2,380.0 115.9,390.0 118.0,403.0 119.5,385.7 121.7,381.4 123.1,393.0 124.6,407.4 126.0,425.0 128.1,448.0 130.0,463.5 132.9,482.7 136.7,498.0 140.6,507.7 144.4,513.5 150.0,515.0" fill="none" stroke="#000" stroke-width="4" stroke-linejoin="round" stroke-dasharray="12 7"/>
<polyline points="46.5,505.0 47.5,507.0 51.5,501.0 54.8,498.3 57.5,501.0 60.2,503.7 63.5,503.0 66.5,506.0 69.6,510.4 75.0,511.8 79.0,511.0 83.1,508.5 86.0,504.0 88.5,499.7 92.5,488.9 95.2,475.4 97.9,462.0 100.6,440.4 103.3,427.0 106.0,448.5 108.7,435.0 111.3,413.5 113.7,403.0 115.2,390.0 116.6,378.5 118.8,372.7 121.0,371.2 122.4,353.9 123.8,336.6 126.0,329.3 128.2,330.8 129.6,346.7 131.1,368.4 132.5,382.8 134.7,387.1 136.8,400.1 139.0,380.0 140.0,366.2 141.2,353.2 142.6,356.1 144.1,369.1 147.0,373.5 149.1,382.1 151.3,395.1 153.5,409.6 154.6,420.0 156.0,444.2 157.9,450.0 159.8,432.7 161.7,423.0 163.7,438.5 165.6,457.7 167.5,477.0 169.4,496.0 171.5,508.8 175.4,512.7 181.2,511.7 186.9,513.7 195.6,509.2 200.4,512.7 210.0,513.7 217.7,510.8 225.4,510.8 228.5,513.5 230.5,514.5" fill="none" stroke="#000" stroke-width="4.3" stroke-linejoin="round"/>
<polygon points="305.5,447 313.5,409 316,412 310,446" fill="#c2c2c2"/>
<polyline points="300.0,462.0 306.0,445.0 312.0,430.0 316.0,426.0 319.0,421.0 322.0,416.0 325.0,412.0 328.0,407.0 331.0,401.0 333.2,392.0 336.3,376.0 340.2,366.0 343.2,354.0 344.8,343.0 347.0,334.5 350.4,333.5 352.7,337.3 354.8,348.0 357.0,363.5 359.5,378.8 361.2,394.2 362.8,409.6 365.0,438.8 368.0,467.7 370.8,496.5 373.7,513.8 376.5,519.6 380.0,520.3 497.0,520.3" fill="none" stroke="#959595" stroke-width="4.3" stroke-linejoin="round"/>
<polyline points="318.0,428.0 321.0,423.0 324.0,418.0 327.0,414.0 330.0,409.0 333.0,404.0 335.2,392.7 338.3,375.8 342.2,366.5 345.2,354.2 346.8,343.5 349.1,335.8 353.7,338.8 356.8,341.9 360.6,345.0 362.2,355.8 363.9,371.2 365.5,389.6 367.0,406.5 368.4,415.0 370.3,433.0 372.3,458.0 374.2,483.0 376.0,500.4 378.7,511.9 382.5,517.7 390.0,519.3 497.0,519.3" fill="none" stroke="#000" stroke-width="4.2" stroke-linejoin="round" stroke-dasharray="11 6"/>
<polyline points="324.0,438.0 326.5,435.6 330.8,434.5 334.0,429.1 336.2,420.4 338.1,417.3 340.4,406.5 342.7,395.8 345.8,388.1 347.3,377.3 348.8,369.6 351.2,363.5 354.2,355.8 356.5,348.1 358.8,340.4 361.0,330.0 361.6,321.0 362.3,330.0 364.2,343.5 367.3,348.1 370.4,352.7 371.9,371.2 373.5,394.2 374.8,410.0 376.7,429.2 378.7,448.5 379.6,467.7 381.5,490.8 383.5,506.2 386.3,515.8 389.2,518.7 395.0,519.2 497.0,519.2" fill="none" stroke="#000" stroke-width="4.3" stroke-linejoin="round"/>
<polygon points="359.8,333 361.5,318.5 363.5,335" fill="#000"/>
<polygon points="316.5,424 319.5,428 323,431.3 326.3,436.5 325.6,449.5 322.5,447 321.7,460 318.5,458 314.5,482 312,464 308,468 302.8,477 301,470 297.5,474 296,472 296,458 299,455 303,452 306,446 309,440 312,433" fill="#141414"/>
<polygon points="300.5,444 303,441.5 309.5,449 307.5,453 301.5,448.5" fill="#141414"/>
<polygon points="302.5,456 306.5,450 310.5,455 306.5,463" fill="#a5a5a5"/>
<defs>
<filter id="bl1" x="-20%" y="-50%" width="140%" height="200%"><feGaussianBlur stdDeviation="1.2"/></filter>
<filter id="bl2" x="-20%" y="-50%" width="140%" height="200%"><feGaussianBlur stdDeviation="0.9"/></filter>
<filter id="bl3" x="-20%" y="-50%" width="140%" height="200%"><feGaussianBlur stdDeviation="2"/></filter>
<linearGradient id="l1g" x1="0" y1="0" x2="0" y2="1">
<stop offset="0" stop-color="#bdbdbd"/><stop offset="0.3" stop-color="#b0b0b0"/><stop offset="0.45" stop-color="#8f8f8f"/><stop offset="0.6" stop-color="#9c9c9c"/><stop offset="0.75" stop-color="#b4b4b4"/><stop offset="1" stop-color="#bcbcbc"/></linearGradient>
<linearGradient id="l3g" x1="0" y1="0" x2="0" y2="1">
<stop offset="0" stop-color="#2c2c2c"/><stop offset="0.2" stop-color="#161616"/><stop offset="0.6" stop-color="#1e1e1e"/><stop offset="1" stop-color="#282828"/></linearGradient>
<linearGradient id="smear" x1="0" y1="0" x2="0" y2="1">
<stop offset="0" stop-color="#e2e2e2"/><stop offset="1" stop-color="#c2c2c2"/></linearGradient>
</defs>
<rect x="169.7" y="606" width="188.5" height="20" fill="#d3d3d3"/>
<rect x="171.5" y="606" width="37.5" height="20" fill="url(#l1g)" filter="url(#bl2)"/>
<rect x="204.5" y="613" width="2.5" height="5" fill="#808080" filter="url(#bl2)"/>
<rect x="246" y="607" width="30" height="18.5" fill="#c7c7c7" filter="url(#bl1)"/>
<rect x="318.8" y="606" width="36.4" height="20" fill="url(#l3g)" filter="url(#bl2)"/>
<rect x="355.2" y="606" width="2.8" height="20" fill="#a8a8a8"/>
<rect x="162.7" y="645.4" width="202.3" height="44.4" fill="#f0f0f0"/>
<rect x="320.4" y="646.3" width="34.6" height="16" fill="url(#smear)" filter="url(#bl1)"/>
<rect x="168.2" y="662.4" width="45" height="16" rx="8" ry="8" transform="rotate(-5.6 190.7 670.4)" fill="#060606" filter="url(#bl2)"/>
<path d="M250,648 Q251,645 254,645.8 L262,650.5 L275,656.5 L283,661 Q287,664 286.5,668.5 Q285.5,674.5 279,676 Q272,676.5 258,670.5 Q251.5,667.5 250.5,661 Z" fill="#060606" filter="url(#bl2)"/>
<rect x="317.5" y="660.8" width="40.9" height="20.2" rx="7" ry="8.5" fill="#060606" filter="url(#bl2)"/>
<path d="M358.5,615.8 L372.2,610.6 L369.8,615.8 L372.2,621 Z" fill="#000"/>
<line x1="369" y1="615.8" x2="391.8" y2="615.8" stroke="#000" stroke-width="1.7"/>
<path d="M367.3,668.4 L381,663 L378.6,668.4 L381,673.8 Z" fill="#000"/>
<line x1="378" y1="668.4" x2="400.8" y2="668.4" stroke="#000" stroke-width="1.7"/>
<text x="395.7" y="621" font-family="Liberation Sans, sans-serif" font-weight="bold" font-size="18">LRP1</text>
<text x="405.4" y="671.2" font-family="Liberation Sans, sans-serif" font-weight="bold" font-size="18.5">actin</text>
<text x="183" y="600.8" font-family="Liberation Sans, sans-serif" font-weight="bold" font-size="22">1</text>
<text x="257.2" y="600.8" font-family="Liberation Sans, sans-serif" font-weight="bold" font-size="22">2</text>
<text x="330.8" y="600.8" font-family="Liberation Sans, sans-serif" font-weight="bold" font-size="22">3</text>
</svg></body></html>
